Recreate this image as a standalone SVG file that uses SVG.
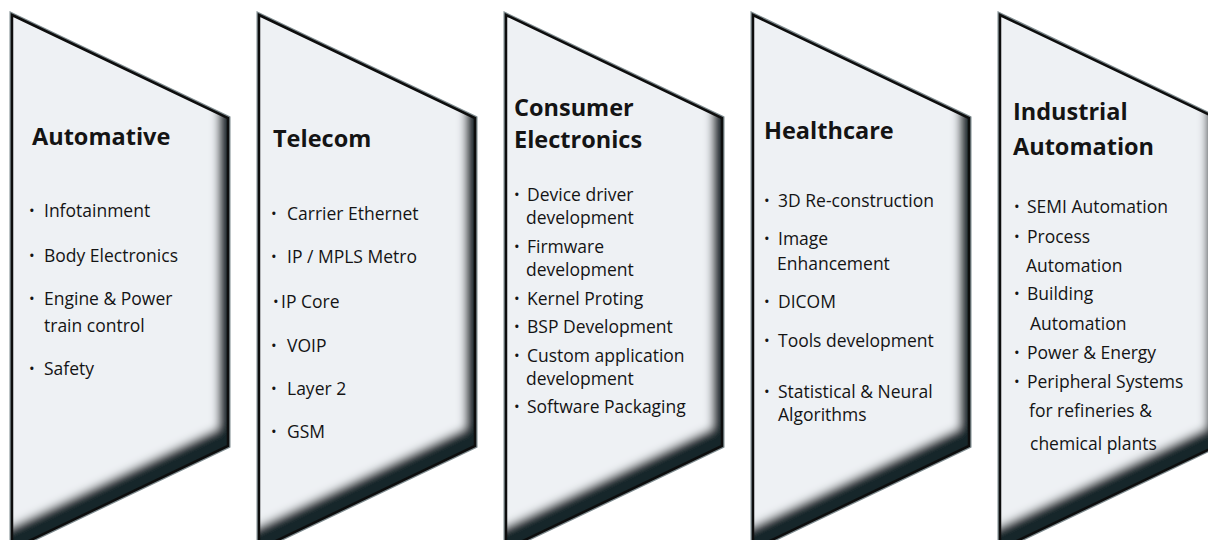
<svg xmlns="http://www.w3.org/2000/svg" width="1208" height="540" viewBox="0 0 1208 540">
<defs>
<filter id="bevel" x="-10%" y="-10%" width="120%" height="120%">
<feOffset in="SourceAlpha" dx="-10" dy="-18" result="o"/>
<feGaussianBlur in="o" stdDeviation="4.5" result="b"/>
<feComposite in="SourceAlpha" in2="b" operator="out" result="m"/>
<feFlood flood-color="#16252b" result="c"/>
<feComposite in="c" in2="m" operator="in" result="s"/>
<feMerge><feMergeNode in="SourceGraphic"/><feMergeNode in="s"/></feMerge>
</filter>
<polygon id="shape" points="12,15 228,118 228,446 12,549"/>
</defs>
<style>
.out{fill:none;stroke:#7d8a8e;stroke-width:5;stroke-linejoin:miter}
.fill{fill:#eef1f4;filter:url(#bevel)}
.edge{fill:none;stroke:#0d0d0d;stroke-width:2.5;stroke-linejoin:miter}
text{font-family:"Open Sans","Noto Sans","Liberation Sans",sans-serif;fill:#141414}
.t{font-size:23.5px;font-weight:700}
.i{font-size:17.5px}
.b{font-size:15px}
</style>
<rect width="1208" height="540" fill="#ffffff"/>

<g id="node-automative">
<use href="#shape" class="out"/><use href="#shape" class="fill"/><use href="#shape" class="edge"/>
<text class="t" x="32" y="145">Automative</text>
<text class="b" x="29" y="216">•</text><text class="i" x="44" y="217">Infotainment</text>
<text class="b" x="29" y="261">•</text><text class="i" x="44" y="262">Body Electronics</text>
<text class="b" x="29" y="304">•</text><text class="i" x="44" y="305">Engine &amp; Power</text>
<text class="i" x="44" y="332">train control</text>
<text class="b" x="29" y="374">•</text><text class="i" x="44" y="375">Safety</text>
</g>

<g id="node-telecom" transform="translate(247,0)">
<use href="#shape" class="out"/><use href="#shape" class="fill"/><use href="#shape" class="edge"/>
<text class="t" x="26" y="147">Telecom</text>
<text class="b" x="24" y="219">•</text><text class="i" x="40" y="220">Carrier Ethernet</text>
<text class="b" x="24" y="262">•</text><text class="i" x="40" y="263">IP / MPLS Metro</text>
<text class="b" x="26" y="307">•</text><text class="i" x="34" y="308">IP Core</text>
<text class="b" x="24" y="351">•</text><text class="i" x="40" y="352">VOIP</text>
<text class="b" x="24" y="394">•</text><text class="i" x="40" y="395">Layer 2</text>
<text class="b" x="24" y="437">•</text><text class="i" x="40" y="438">GSM</text>
</g>

<g id="node-consumer-electronics" transform="translate(494,0)">
<use href="#shape" class="out"/><use href="#shape" class="fill"/><use href="#shape" class="edge"/>
<text class="t" x="20" y="116">Consumer</text>
<text class="t" x="20" y="148">Electronics</text>
<text class="b" x="20" y="200">•</text><text class="i" x="33" y="201">Device driver</text>
<text class="i" x="32" y="224">development</text>
<text class="b" x="20" y="252">•</text><text class="i" x="33" y="253">Firmware</text>
<text class="i" x="32" y="276">development</text>
<text class="b" x="20" y="304">•</text><text class="i" x="33" y="305">Kernel Proting</text>
<text class="b" x="20" y="332">•</text><text class="i" x="33" y="333">BSP Development</text>
<text class="b" x="20" y="361">•</text><text class="i" x="33" y="362">Custom application</text>
<text class="i" x="32" y="385">development</text>
<text class="b" x="20" y="412">•</text><text class="i" x="33" y="413">Software Packaging</text>
</g>

<g id="node-healthcare" transform="translate(741,0)">
<use href="#shape" class="out"/><use href="#shape" class="fill"/><use href="#shape" class="edge"/>
<text class="t" x="23" y="139">Healthcare</text>
<text class="b" x="23" y="206">•</text><text class="i" x="37" y="207">3D Re-construction</text>
<text class="b" x="23" y="244">•</text><text class="i" x="37" y="245">Image</text>
<text class="i" x="36" y="270">Enhancement</text>
<text class="b" x="23" y="307">•</text><text class="i" x="37" y="308">DICOM</text>
<text class="b" x="23" y="346">•</text><text class="i" x="37" y="347">Tools development</text>
<text class="b" x="23" y="397">•</text><text class="i" x="37" y="398">Statistical &amp; Neural</text>
<text class="i" x="37" y="421">Algorithms</text>
</g>

<g id="node-industrial-automation" transform="translate(988,0)">
<use href="#shape" class="out"/><use href="#shape" class="fill"/><use href="#shape" class="edge"/>
<text class="t" x="25" y="120">Industrial</text>
<text class="t" x="25" y="155">Automation</text>
<text class="b" x="26" y="212">•</text><text class="i" x="39" y="213">SEMI Automation</text>
<text class="b" x="26" y="242">•</text><text class="i" x="39" y="243">Process</text>
<text class="i" x="38" y="272">Automation</text>
<text class="b" x="26" y="299">•</text><text class="i" x="39" y="300">Building</text>
<text class="i" x="42" y="330">Automation</text>
<text class="b" x="26" y="358">•</text><text class="i" x="39" y="359">Power &amp; Energy</text>
<text class="b" x="26" y="387">•</text><text class="i" x="39" y="388">Peripheral Systems</text>
<text class="i" x="41" y="417">for refineries &amp;</text>
<text class="i" x="42" y="450">chemical plants</text>
</g>

<g id="connectors"></g>
</svg>
